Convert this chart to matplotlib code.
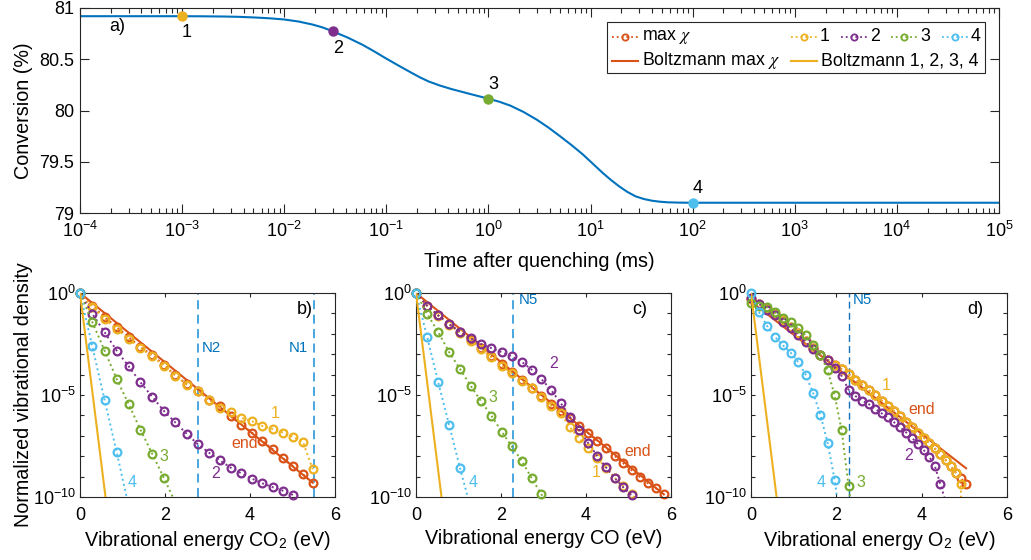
import numpy as np
import matplotlib
matplotlib.use("Agg")
import matplotlib.pyplot as plt
from matplotlib.lines import Line2D
from matplotlib.patches import Rectangle
from matplotlib.ticker import FixedLocator, NullFormatter, FuncFormatter, FixedFormatter

plt.rcParams['font.family'] = ['Liberation Sans', 'DejaVu Sans']
plt.rcParams['mathtext.fontset'] = 'stix'

C_BLUE = '#0072BD'
C_ORANGE = '#D95319'
C_YELLOW = '#EDB120'
C_PURPLE = '#7E2F8E'
C_GREEN = '#77AC30'
C_CYAN = '#4DBEEE'
AX_COL = '#262626'

# ---------------- (a) conversion after quenching ----------------
log10_time_ms = [-4.0, -3.0, -2.8, -2.6, -2.45, -2.3, -2.15, -2.0, -1.86, -1.72,
                 -1.62, -1.523, -1.3775, -1.235, -1.1225, -1.01, -0.88, -0.75,
                 -0.67, -0.59, -0.4775, -0.365, -0.1825, 0.0, 0.108, 0.216, 0.345,
                 0.474, 0.587, 0.70, 0.813, 0.926, 1.023, 1.12, 1.20, 1.28, 1.36,
                 1.44, 1.52, 1.60, 1.68, 1.76, 1.88, 2.0, 5.0]
conversion = [80.920, 80.920, 80.919, 80.917, 80.914, 80.908, 80.900, 80.888,
              80.868, 80.838, 80.809, 80.772, 80.711, 80.642, 80.579, 80.512,
              80.438, 80.366, 80.323, 80.285, 80.244, 80.210, 80.162, 80.115,
              80.085, 80.047, 79.985, 79.910, 79.834, 79.750, 79.663, 79.570,
              79.480, 79.390, 79.322, 79.260, 79.206, 79.163, 79.137, 79.120,
              79.110, 79.104, 79.101, 79.100, 79.100]
snap_times = [1e-3, 3e-2, 1.0, 100.0]
snap_conv = [80.920, 80.772, 80.115, 79.100]
snap_labels = ['1', '2', '3', '4']
snap_colors = [C_YELLOW, C_PURPLE, C_GREEN, C_CYAN]
conv_ticks = [79, 79.5, 80, 80.5, 81]
conv_ticklabels = ['79', '79.5', '80', '80.5', '81']

# ---------------- vibrational level energies (eV) ----------------
E_CO2 = [0, 0.290, 0.578, 0.862, 1.143, 1.422, 1.697, 1.970, 2.239, 2.506, 2.770,
         3.030, 3.288, 3.543, 3.795, 4.044, 4.290, 4.533, 4.773, 5.010, 5.245, 5.476]
E_CO = [0, 0.263, 0.523, 0.780, 1.034, 1.284, 1.532, 1.776, 2.017, 2.255, 2.490,
        2.722, 2.951, 3.177, 3.400, 3.620, 3.836, 4.050, 4.260, 4.468, 4.672,
        4.873, 5.071, 5.266, 5.457, 5.646, 5.831]
E_O2 = [0, 0.190, 0.378, 0.563, 0.746, 0.927, 1.105, 1.281, 1.454, 1.626, 1.795,
        1.961, 2.125, 2.287, 2.447, 2.604, 2.759, 2.911, 3.061, 3.209, 3.355,
        3.498, 3.639, 3.777, 3.913, 4.047, 4.178, 4.308, 4.434, 4.559, 4.680,
        4.800, 4.917, 5.032]

# ---------------- (b) CO2, log10 of normalized density ----------------
b_maxchi = [0, -0.64, -1.18, -1.67, -2.16, -2.66, -3.03, -3.52, -4.02, -4.46, -4.78,
            -5.23, -5.56, -6.04, -6.45, -6.84, -7.25, -7.66, -8.10, -8.48, -8.89, -9.30]
b_s1 = [0, -0.69, -1.26, -1.75, -2.25, -2.70, -3.10, -3.56, -4.05, -4.49, -4.80,
        -5.23, -5.62, -5.85, -6.12, -6.28, -6.52, -6.67, -6.84, -7.05, -7.30, -8.64]
b_s2 = [0, -1.02, -1.92, -2.82, -3.59, -4.38, -5.08, -5.77, -6.34, -6.89, -7.41,
        -7.82, -8.20, -8.56, -8.84, -9.10, -9.33, -9.52, -9.69, -9.90]
b_s3 = [0, -1.43, -2.82, -4.21, -5.44, -6.70, -7.87, -9.05, -10.25]
b_s4 = [0, -2.62, -5.25, -7.79, -10.43]
b_boltz_maxchi_E = [0, 5.476]
b_boltz_maxchi = [0, -9.30]

# ---------------- (c) CO ----------------
c_maxchi = [0, -0.62, -1.10, -1.52, -1.93, -2.30, -2.72, -3.10, -3.50, -3.87, -4.25,
            -4.64, -5.05, -5.45, -5.80, -6.15, -6.52, -6.88, -7.24, -7.60, -7.98,
            -8.34, -8.68, -9.02, -9.33, -9.58, -9.87]
c_s1 = [0, -0.64, -1.12, -1.55, -1.95, -2.33, -2.76, -3.16, -3.57, -3.93, -4.30,
        -4.66, -5.11, -5.52, -5.90, -6.59, -7.11, -7.61, -8.11, -8.56, -9.05,
        -9.46, -9.87, -10.30]
c_s2 = [0, -0.62, -1.10, -1.52, -1.90, -2.22, -2.50, -2.70, -2.90, -3.11, -3.38,
        -3.76, -4.22, -4.75, -5.38, -6.07, -6.70, -7.35, -7.97, -8.54, -9.07,
        -9.52, -9.92, -10.30]
c_s3 = [0, -1.02, -1.92, -2.90, -3.72, -4.54, -5.31, -6.02, -6.80, -7.52, -8.23,
        -9.08, -9.87, -10.60]
c_s4 = [0, -2.16, -4.38, -6.48, -8.56, -10.52]
c_boltz_maxchi_E = [0, 5.831]
c_boltz_maxchi = [0, -9.87]

# ---------------- (d) O2 ----------------
d_maxchi = [-0.30, -0.56, -0.79, -1.05, -1.33, -1.66, -1.98, -2.36, -2.72, -3.02,
            -3.26, -3.51, -3.74, -3.98, -4.25, -4.50, -4.76, -5.02, -5.27, -5.53,
            -5.80, -6.05, -6.31, -6.58, -6.84, -7.09, -7.35, -7.62, -7.90, -8.18,
            -8.48, -8.80, -9.05, -9.38]
d_s1 = [-0.30, -0.56, -0.79, -1.05, -1.33, -1.66, -1.98, -2.36, -2.72, -3.02,
        -3.26, -3.51, -3.74, -3.98, -4.25, -4.50, -4.76, -5.02, -5.27, -5.53,
        -5.80, -6.05, -6.31, -6.58, -6.84, -7.09, -7.35, -7.62, -7.90, -8.18,
        -8.48, -8.80, -9.34, -25.0]
d_s2 = [-0.26, -0.52, -0.85, -1.10, -1.40, -1.74, -2.05, -2.40, -2.76, -3.05,
        -3.30, -3.66, -4.07, -4.74, -5.05, -5.27, -5.45, -5.68, -5.90, -6.10,
        -6.34, -6.59, -6.84, -7.11, -7.41, -7.70, -8.03, -8.48, -9.34, -10.20]
d_s3 = [-0.51, -0.62, -0.70, -0.95, -1.21, -1.41, -1.74, -2.07, -2.56, -3.02,
        -3.79, -5.02, -6.74, -9.48, -12.0]
d_s4 = [0, -0.95, -1.62, -2.15, -2.56, -2.92, -3.38, -4.00, -4.89, -5.97, -7.34,
        -9.16, -11.7]
d_boltz_maxchi_E = [0, 5.04]
d_boltz_maxchi = [-0.42, -8.59]

# Boltzmann distribution at room temperature (states 1-4)
boltz_room_E = [0, 0.60]
boltz_room = [0, -10.0]


def log_label(v, pos):
    if v <= 0:
        return ''
    return r'$\mathregular{10^{%d}}$' % int(round(np.log10(v)))


fig = plt.figure(figsize=(10.31, 5.6), dpi=100)
W, H = 1031.0, 560.0
TICK_FS = 13.0

# ---------------- top panel ----------------
ax_a = fig.add_axes([80 / W, 1 - 213 / H, 919 / W, 205 / H])
ax_a.plot(10.0 ** np.asarray(log10_time_ms), conversion, color=C_BLUE, lw=1.5,
          zorder=2)
for t, cv, lab, col in zip(snap_times, snap_conv, snap_labels, snap_colors):
    ax_a.plot([t], [cv], 'o', color=col, ms=6.5, zorder=3)
    dy = -12.0 if lab in ('1', '2') else 10.0
    ax_a.annotate(lab, (t, cv), xytext=(3.6, dy), textcoords='offset points',
                  ha='center', va='center', fontsize=13, color='black')
ax_a.set_xscale('log')
ax_a.set_xlim(1e-4, 1e5)
ax_a.set_ylim(79, 81)
ax_a.set_xticks([10.0 ** k for k in range(-4, 6)])
ax_a.xaxis.set_major_formatter(FuncFormatter(log_label))
ax_a.xaxis.set_minor_locator(FixedLocator(
    [m * 10.0 ** k for k in range(-4, 5) for m in range(2, 10)]))
ax_a.xaxis.set_minor_formatter(NullFormatter())
ax_a.set_yticks(conv_ticks)
ax_a.yaxis.set_major_formatter(FixedFormatter(conv_ticklabels))
ax_a.tick_params(which='both', direction='in', top=True, right=True,
                 colors=AX_COL, labelcolor='black', labelsize=TICK_FS, width=0.8)
ax_a.tick_params(which='major', length=6.5)
ax_a.tick_params(which='minor', length=3.5)
ax_a.tick_params(axis='x', pad=6)
ax_a.tick_params(axis='y', pad=4)
for s in ax_a.spines.values():
    s.set_color(AX_COL)
    s.set_linewidth(0.8)
ax_a.set_xlabel('Time after quenching (ms)', fontsize=14.2)
ax_a.xaxis.set_label_coords(0.5, -0.19)
ax_a.set_ylabel('Conversion (%)', fontsize=14.2)
ax_a.yaxis.set_label_coords(-0.051, 0.5)
ax_a.text(0.04, 0.91, 'a)', transform=ax_a.transAxes, fontsize=13,
          ha='center', va='center')

# legend drawn by hand to get the two-row layout
leg_x0, leg_x1, leg_y0, leg_y1 = 0.573, 0.985, 0.683, 0.932
ax_a.add_patch(Rectangle((leg_x0, leg_y0), leg_x1 - leg_x0, leg_y1 - leg_y0,
                         transform=ax_a.transAxes, facecolor='white',
                         edgecolor=AX_COL, lw=0.8, zorder=5))
row1, row2 = 0.860, 0.743
leg_fs = 12.8


def leg_marker_entry(x0, x1, xt, y, col, text):
    ax_a.add_line(Line2D([x0, x1], [y, y], transform=ax_a.transAxes, color=col,
                         ls=':', lw=1.3, zorder=6))
    ax_a.add_line(Line2D([(x0 + x1) / 2], [y], transform=ax_a.transAxes,
                         marker='o', ms=4.5, mfc='none', mec=col, mew=1.3,
                         ls='none', zorder=6))
    ax_a.text(xt, y, text, transform=ax_a.transAxes, fontsize=leg_fs,
              ha='left', va='center', zorder=6)


def leg_line_entry(x0, x1, xt, y, col, text):
    ax_a.add_line(Line2D([x0, x1], [y, y], transform=ax_a.transAxes, color=col,
                         ls='-', lw=1.5, zorder=6))
    ax_a.text(xt, y, text, transform=ax_a.transAxes, fontsize=leg_fs,
              ha='left', va='center', zorder=6)


leg_marker_entry(0.5786, 0.6075, 0.6112, row1, C_ORANGE, r'max $\chi$')
leg_marker_entry(0.7733, 0.8016, 0.8052, row1, C_YELLOW, '1')
leg_marker_entry(0.8277, 0.8560, 0.8596, row1, C_PURPLE, '2')
leg_marker_entry(0.8822, 0.9105, 0.9148, row1, C_GREEN, '3')
leg_marker_entry(0.9376, 0.9666, 0.9692, row1, C_CYAN, '4')
leg_line_entry(0.5786, 0.6075, 0.6112, row2, C_ORANGE, r'Boltzmann max $\chi$')
leg_line_entry(0.7733, 0.8016, 0.8060, row2, C_YELLOW, 'Boltzmann 1, 2, 3, 4')


# ---------------- bottom panels ----------------
def draw_series(ax, energies, logs, color, z):
    e = np.asarray(energies[:len(logs)], dtype=float)
    y = 10.0 ** np.asarray(logs, dtype=float)
    ax.plot(e, y, ls=':', color=color, lw=1.4, zorder=z)
    vis = y >= 0.999e-10
    ax.plot(e[vis], y[vis], ls='none', marker='o', ms=5.6, mfc='none', mec=color,
            mew=1.6, zorder=z + 0.1, clip_on=False)


def setup_panel(ax, xlabel):
    ax.set_yscale('log')
    ax.set_xlim(0, 6)
    ax.set_ylim(1e-10, 1)
    ax.set_xticks([0, 2, 4, 6])
    ax.set_yticks([1e-10, 1e-5, 1])
    ax.yaxis.set_major_formatter(FuncFormatter(log_label))
    ax.yaxis.set_minor_locator(FixedLocator(
        [10.0 ** k for k in range(-9, 0) if k != -5]))
    ax.yaxis.set_minor_formatter(NullFormatter())
    ax.tick_params(which='both', direction='in', top=True, right=True,
                   colors=AX_COL, labelcolor='black', labelsize=TICK_FS,
                   length=2.8, width=0.8)
    ax.tick_params(axis='x', pad=7)
    ax.tick_params(axis='y', pad=3)
    for s in ax.spines.values():
        s.set_color(AX_COL)
        s.set_linewidth(0.8)
    ax.set_xlabel(xlabel, fontsize=14.2)
    ax.xaxis.set_label_coords(0.5, -0.155)


def draw_panel(ax, E, maxchi, s1, s2, s3, s4, bz_E, bz):
    draw_series(ax, E, maxchi, C_ORANGE, 2)
    ax.plot(bz_E, 10.0 ** np.asarray(bz), '-', color=C_ORANGE, lw=1.5, zorder=2.5)
    draw_series(ax, E, s1, C_YELLOW, 3)
    draw_series(ax, E, s2, C_PURPLE, 4)
    draw_series(ax, E, s3, C_GREEN, 5)
    draw_series(ax, E, s4, C_CYAN, 6)
    ax.plot(boltz_room_E, 10.0 ** np.asarray(boltz_room), '-', color=C_YELLOW,
            lw=1.5, zorder=7)


def tag(ax, e, lg, s, col, fs=11.5):
    ax.text(e, 10.0 ** lg, s, color=col, fontsize=fs, ha='center', va='center',
            zorder=8)


ax_b = fig.add_axes([80 / W, 1 - 497 / H, 255 / W, 204 / H])
ax_c = fig.add_axes([416 / W, 1 - 497 / H, 255 / W, 204 / H])
ax_d = fig.add_axes([751 / W, 1 - 497 / H, 256 / W, 204 / H])

draw_panel(ax_b, E_CO2, b_maxchi, b_s1, b_s2, b_s3, b_s4,
           b_boltz_maxchi_E, b_boltz_maxchi)
draw_panel(ax_c, E_CO, c_maxchi, c_s1, c_s2, c_s3, c_s4,
           c_boltz_maxchi_E, c_boltz_maxchi)
draw_panel(ax_d, E_O2, d_maxchi, d_s1, d_s2, d_s3, d_s4,
           d_boltz_maxchi_E, d_boltz_maxchi)

setup_panel(ax_b, r'Vibrational energy CO$_{\mathregular{2}}$ (eV)')
setup_panel(ax_c, 'Vibrational energy CO (eV)')
setup_panel(ax_d, r'Vibrational energy O$_{\mathregular{2}}$ (eV)')

ax_b.set_ylabel('Normalized vibrational density', fontsize=14.2)
ax_b.yaxis.set_label_coords(-0.184, 0.5)

# dissociation / reaction thresholds
for ax, xs, col, lw in ((ax_b, [2.77, 5.50], '#3A9FDD', 1.3),
                        (ax_c, [2.28], '#3A9FDD', 1.3),
                        (ax_d, [2.29], '#1670B8', 1.0)):
    for xv in xs:
        ax.axvline(xv, color=col, ls=(0, (5, 3)), lw=lw, zorder=1)

N_COL = '#0072BD'
tag(ax_b, 3.10, -2.70, 'N2', N_COL, 10.8)
tag(ax_b, 5.14, -2.70, 'N1', N_COL, 10.8)
tag(ax_c, 2.65, -0.36, 'N5', N_COL, 10.8)
tag(ax_d, 2.61, -0.36, 'N5', N_COL, 10.8)

tag(ax_b, 4.59, -5.89, '1', C_YELLOW)
tag(ax_b, 3.88, -7.40, 'end', C_ORANGE)
tag(ax_b, 3.18, -8.87, '2', C_PURPLE)
tag(ax_b, 1.98, -8.03, '3', C_GREEN)
tag(ax_b, 1.22, -9.31, '4', C_CYAN)

tag(ax_c, 3.25, -3.47, '2', C_PURPLE)
tag(ax_c, 1.81, -5.11, '3', C_GREEN)
tag(ax_c, 5.22, -7.77, 'end', C_ORANGE)
tag(ax_c, 4.23, -8.80, '1', C_YELLOW)
tag(ax_c, 1.35, -9.30, '4', C_CYAN)

tag(ax_d, 3.16, -4.54, '1', C_YELLOW)
tag(ax_d, 4.00, -5.69, 'end', C_ORANGE)
tag(ax_d, 3.70, -7.98, '2', C_PURPLE)
tag(ax_d, 1.65, -9.30, '4', C_CYAN)
tag(ax_d, 2.58, -9.30, '3', C_GREEN)

for ax, letter, fx in ((ax_b, 'b)', 0.88), (ax_c, 'c)', 0.878), (ax_d, 'd)', 0.875)):
    ax.text(fx, 0.917, letter, transform=ax.transAxes, fontsize=13,
            ha='center', va='center', zorder=8)

fig.savefig('out.png', dpi=100)
